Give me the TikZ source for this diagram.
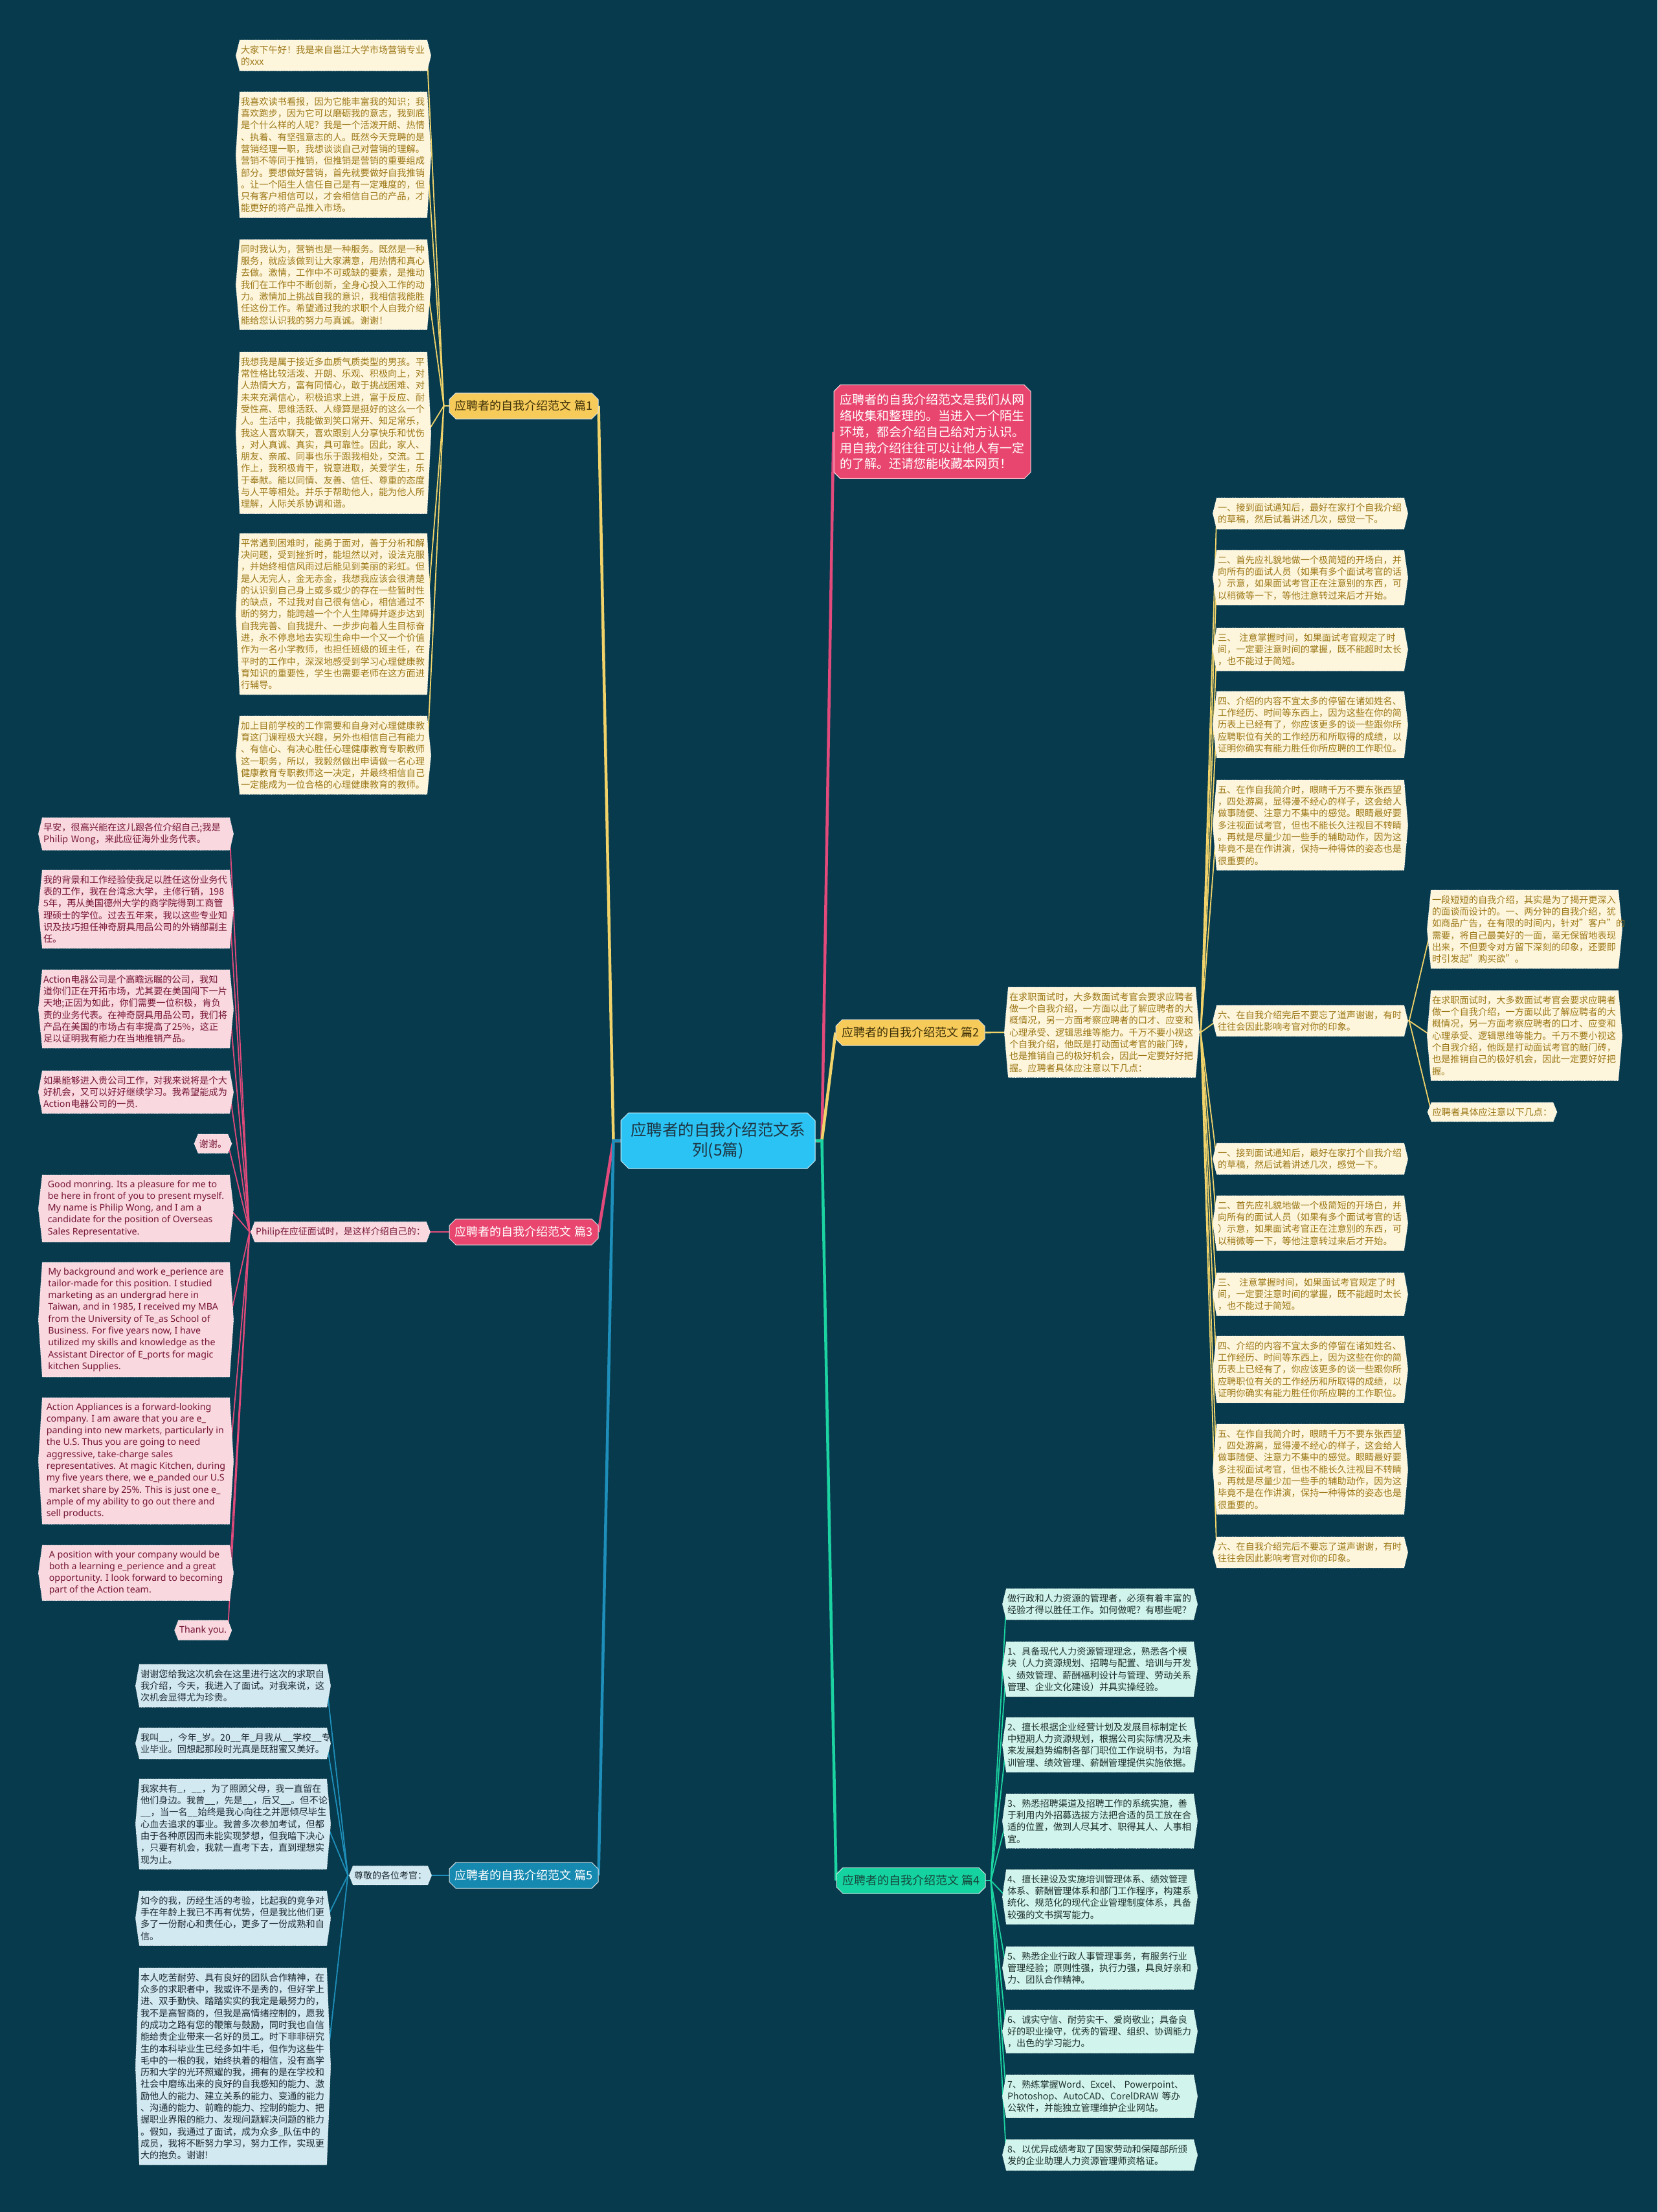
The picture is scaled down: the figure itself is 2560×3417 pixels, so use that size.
\documentclass[tikz,border=0pt]{standalone}
\usepackage{fontspec}
\setmainfont{Noto Sans CJK SC}
\newfontfamily\latinfont{Noto Sans}
\usepackage{tikz}
\usetikzlibrary{positioning,shapes.misc,backgrounds}
\definecolor{deep}{HTML}{073A4D}
\definecolor{rootfill}{HTML}{2BC3F3}
\definecolor{roottext}{HTML}{1E3442}
\definecolor{sun}{HTML}{F7CB5A}
\definecolor{suntext}{HTML}{3F3209}
\definecolor{sunline}{HTML}{F1D36A}
\definecolor{rose}{HTML}{E9466F}
\definecolor{roseline}{HTML}{E24A7B}
\definecolor{sea}{HTML}{1689B1}
\definecolor{sealine}{HTML}{1E8FBA}
\definecolor{mint}{HTML}{14D3A0}
\definecolor{minttext}{HTML}{17453B}
\definecolor{mintline}{HTML}{1CD4A2}
\definecolor{cream}{HTML}{FEF6DC}
\definecolor{creamtext}{HTML}{9B7616}
\definecolor{blush}{HTML}{F9D8DF}
\definecolor{blushtext}{HTML}{761535}
\definecolor{frost}{HTML}{D1F5EC}
\definecolor{frosttext}{HTML}{1F302D}
\definecolor{ice}{HTML}{D3E9F1}
\definecolor{icetext}{HTML}{1C2A33}
\tikzset{
  mbase/.style={font=\fontsize{14.2pt}{18.3pt}\selectfont,inner xsep=1.5pt,inner ysep=8pt,align=left},
  mleaf/.style={mbase,text width=286pt},
  mgold/.style={mleaf,text=creamtext},
  mrose/.style={mleaf,text=blushtext},
  mmint/.style={mleaf,text=frosttext},
  mice/.style={mleaf,text=icetext},
  mword/.style={mbase,font=\latinfont\fontsize{14.2pt}{18.3pt}\selectfont,minimum width=289pt,text=blushtext},
  mtag/.style={mbase},
  mtopic/.style={chamfered rectangle,chamfered rectangle xsep=5pt,chamfered rectangle ysep=5pt,draw=white!85!deep,line width=1pt,minimum width=230pt,minimum height=40pt,inner sep=2pt,font=\fontsize{18pt}{22pt}\selectfont},
  mroot/.style={chamfered rectangle,chamfered rectangle xsep=6pt,chamfered rectangle ysep=6pt,draw=white!80!rootfill,line width=1pt,fill=rootfill,text=roottext,minimum width=300pt,minimum height=86pt,align=center,font=\fontsize{24.5pt}{31pt}\selectfont},
  mintro/.style={chamfered rectangle,chamfered rectangle xsep=5pt,chamfered rectangle ysep=5pt,draw=white!80!rose,line width=1pt,fill=rose,text=white,text width=286pt,align=left,inner xsep=4pt,inner ysep=9pt,font=\fontsize{19pt}{24.8pt}\selectfont},
  mtrunk/.style={line width=4.5pt},
  mlink/.style={line width=2.6pt},
  mline/.style={line width=1.8pt}
}
\newcommand{\mhex}[2]{\path[fill=#2,draw=white,densely dotted,line width=0.7pt] (#1.north west) -- (#1.north east) -- ([xshift=6pt]#1.east) -- (#1.south east) -- (#1.south west) -- ([xshift=-6pt]#1.west) -- cycle;}

\begin{document}
\begin{tikzpicture}[x=1pt,y=-1pt]
  \useasboundingbox (0,0) rectangle (2560,3417);
  \node[mroot] (root) at (1109,1762) {应聘者的自我介绍范文系\\列(5篇)};
  \node[mintro] (intro) at (1440,667) {应聘者的自我介绍范文是我们从网\\络收集和整理的。当进入一个陌生\\环境，都会介绍自己给对方认识。\\用自我介绍往往可以让他人有一定\\的了解。还请您能收藏本网页！};
  \node[mtopic,fill=sun,text=suntext] (p1) at (809,627) {应聘者的自我介绍范文 篇1};
  \node[mtopic,fill=sun,text=suntext] (p2) at (1406,1595) {应聘者的自我介绍范文 篇2};
  \node[mtopic,fill=rose,text=white] (p3) at (809,1903) {应聘者的自我介绍范文 篇3};
  \node[mtopic,fill=mint,text=minttext] (p4) at (1407,2905) {应聘者的自我介绍范文 篇4};
  \node[mtopic,fill=sea,text=white] (p5) at (809,2897) {应聘者的自我介绍范文 篇5};

  \node[mgold,anchor=north] (l1a) at (515,62) {大家下午好！我是来自邕江大学市场营销专业\\的xxx};
  \node[mgold,anchor=north] (l1b) at (515,142) {我喜欢读书看报，因为它能丰富我的知识；我\\喜欢跑步，因为它可以磨砺我的意志，我到底\\是个什么样的人呢？我是一个活泼开朗、热情\\、执着、有坚强意志的人。既然今天竞聘的是\\营销经理一职，我想谈谈自己对营销的理解。\\营销不等同于推销，但推销是营销的重要组成\\部分。要想做好营销，首先就要做好自我推销\\。让一个陌生人信任自己是有一定难度的，但\\只有客户相信可以，才会相信自己的产品，才\\能更好的将产品推入市场。};
  \node[mgold,anchor=north] (l1c) at (515,370) {同时我认为，营销也是一种服务。既然是一种\\服务，就应该做到让大家满意，用热情和真心\\去做。激情，工作中不可或缺的要素，是推动\\我们在工作中不断创新，全身心投入工作的动\\力。激情加上挑战自我的意识，我相信我能胜\\任这份工作。希望通过我的求职个人自我介绍\\能给您认识我的努力与真诚。谢谢！};
  \node[mgold,anchor=north] (l1d) at (515,544) {我想我是属于接近多血质气质类型的男孩。平\\常性格比较活泼、开朗、乐观、积极向上，对\\人热情大方，富有同情心，敢于挑战困难、对\\未来充满信心，积极追求上进，富于反应、耐\\受性高、思维活跃、人缘算是挺好的这么一个\\人。生活中，我能做到笑口常开、知足常乐，\\我这人喜欢聊天，喜欢跟别人分享快乐和忧伤\\，对人真诚、真实，具可靠性。因此，家人、\\朋友、亲戚、同事也乐于跟我相处，交流。工\\作上，我积极肯干，锐意进取，关爱学生，乐\\于奉献。能以同情、友善、信任、尊重的态度\\与人平等相处。并乐于帮助他人，能为他人所\\理解，人际关系协调和谐。};
  \node[mgold,anchor=north] (l1e) at (515,824) {平常遇到困难时，能勇于面对，善于分析和解\\决问题，受到挫折时，能坦然以对，设法克服\\，并始终相信风雨过后能见到美丽的彩虹。但\\是人无完人，金无赤金，我想我应该会很清楚\\的认识到自己身上或多或少的存在一些暂时性\\的缺点，不过我对自己很有信心，相信通过不\\断的努力，能跨越一个个人生障碍并逐步达到\\自我完善、自我提升、一步步向着人生目标奋\\进，永不停息地去实现生命中一个又一个价值\\作为一名小学教师，也担任班级的班主任，在\\平时的工作中，深深地感受到学习心理健康教\\育知识的重要性，学生也需要老师在这方面进\\行辅导。};
  \node[mgold,anchor=north] (l1f) at (515,1106) {加上目前学校的工作需要和自身对心理健康教\\育这门课程极大兴趣，另外也相信自己有能力\\、有信心、有决心胜任心理健康教育专职教师\\这一职务，所以，我毅然做出申请做一名心理\\健康教育专职教师这一决定，并最终相信自己\\一定能成为一位合格的心理健康教育的教师。};

  \node[mtag,text=blushtext,font=\fontsize{14pt}{17pt}\selectfont] (ph) at (526,1903) {Philip在应征面试时，是这样介绍自己的：};
  \node[mrose,anchor=north] (d1) at (210,1263) {早安，很高兴能在这儿跟各位介绍自己;我是\\Philip Wong，来此应征海外业务代表。};
  \node[mrose,anchor=north] (d2) at (210,1344) {我的背景和工作经验使我足以胜任这份业务代\\表的工作，我在台湾念大学，主修行销，198\\5年，再从美国德州大学的商学院得到工商管\\理硕士的学位。过去五年来，我以这些专业知\\识及技巧担任神奇厨具用品公司的外销部副主\\任。};
  \node[mrose,anchor=north] (d3) at (210,1498) {Action电器公司是个高瞻远瞩的公司，我知\\道你们正在开拓市场，尤其要在美国闯下一片\\天地;正因为如此，你们需要一位积极，肯负\\责的业务代表。在神奇厨具用品公司，我们将\\产品在美国的市场占有率提高了25\%，这正\\足以证明我有能力在当地推销产品。};
  \node[mrose,anchor=north] (d4) at (210,1654) {如果能够进入贵公司工作，对我来说将是个大\\好机会，又可以好好继续学习。我希望能成为\\Action电器公司的一员.};
  \node[mtag,text=blushtext,anchor=north east] (d5) at (352,1752) {谢谢。};
  \node[mword,anchor=north] (d6) at (210,1815) {Good monring. Its a pleasure for me to\\be here in front of you to present myself.\\My name is Philip Wong, and I am a\\candidate for the position of Overseas\\Sales Representative.};
  \node[mword,anchor=north] (d7) at (210,1950) {My background and work e\_perience are\\tailor-made for this position. I studied\\marketing as an undergrad here in\\Taiwan, and in 1985, I received my MBA\\from the University of Te\_as School of\\Business. For five years now, I have\\utilized my skills and knowledge as the\\Assistant Director of E\_ports for magic\\kitchen Supplies.};
  \node[mword,anchor=north] (d8) at (210,2159) {Action Appliances is a forward-looking\\company. I am aware that you are e\_\\panding into new markets, particularly in\\the U.S. Thus you are going to need\\aggressive, take-charge sales\\representatives. At magic Kitchen, during\\my five years there, we e\_panded our U.S\\\ market share by 25\%. This is just one e\_\\ample of my ability to go out there and\\sell products.};
  \node[mword,anchor=north] (d9) at (210,2387) {A position with your company would be\\both a learning e\_perience and a great\\opportunity. I look forward to becoming\\part of the Action team.};
  \node[mtag,font=\latinfont\fontsize{14.2pt}{18.3pt}\selectfont,text=blushtext,anchor=north east] (d10) at (352,2503) {Thank you.};

  \node[mtag,text=icetext,font=\fontsize{14pt}{17pt}\selectfont] (hon) at (603,2897) {尊敬的各位考官：};
  \node[mice,anchor=north] (f1) at (360,2571) {谢谢您给我这次机会在这里进行这次的求职自\\我介绍，今天，我进入了面试。对我来说，这\\次机会显得尤为珍贵。};
  \node[mice,anchor=north] (f2) at (360,2669) {我叫\_\_，今年\_岁。20\_\_年\_月我从\_\_学校\_\_专\\业毕业。回想起那段时光真是既甜蜜又美好。};
  \node[mice,anchor=north] (f3) at (360,2748) {我家共有\_，\_\_，为了照顾父母，我一直留在\\他们身边。我曾\_\_，先是\_\_，后又\_\_。但不论\\\_\_，当一名\_\_始终是我心向往之并愿倾尽毕生\\心血去追求的事业。我曾多次参加考试，但都\\由于各种原因而未能实现梦想，但我暗下决心\\，只要有机会，我就一直考下去，直到理想实\\现为止。};
  \node[mice,anchor=north] (f4) at (360,2921) {如今的我，历经生活的考验，比起我的竞争对\\手在年龄上我已不再有优势，但是我比他们更\\多了一份耐心和责任心，更多了一份成熟和自\\信。};
  \node[mice,anchor=north] (f5) at (360,3040) {本人吃苦耐劳、具有良好的团队合作精神，在\\众多的求职者中，我或许不是秀的，但好学上\\进、双手勤快、踏踏实实的我定是最努力的，\\我不是高智商的，但我是高情绪控制的，愿我\\的成功之路有您的鞭策与鼓励，同时我也自信\\能给贵企业带来一名好的员工。时下非非研究\\生的本科毕业生已经多如牛毛，但作为这些牛\\毛中的一根的我，始终执着的相信，没有高学\\历和大学的光环照耀的我，拥有的是在学校和\\社会中磨练出来的良好的自我感知的能力、激\\励他人的能力、建立关系的能力、变通的能力\\、沟通的能力、前瞻的能力、控制的能力、把\\握职业界限的能力、发现问题解决问题的能力\\。假如，我通过了面试，成为众多\_队伍中的\\成员，我将不断努力学习，努力工作，实现更\\大的抱负。谢谢!};

  \node[mgold,anchor=north] (m2) at (1702,1525) {在求职面试时，大多数面试考官会要求应聘者\\做一个自我介绍，一方面以此了解应聘者的大\\概情况，另一方面考察应聘者的口才、应变和\\心理承受、逻辑思维等能力。千万不要小视这\\个自我介绍，他既是打动面试考官的敲门砖，\\也是推销自己的极好机会，因此一定要好好把\\握。应聘者具体应注意以下几点：};
  \node[mgold,anchor=north] (a1) at (2024,769) {一、接到面试通知后，最好在家打个自我介绍\\的草稿，然后试着讲述几次，感觉一下。};
  \node[mgold,anchor=north] (a2) at (2024,850) {二、首先应礼貌地做一个极简短的开场白，并\\向所有的面试人员（如果有多个面试考官的话\\）示意，如果面试考官正在注意别的东西，可\\以稍微等一下，等他注意转过来后才开始。};
  \node[mgold,anchor=north] (a3) at (2024,970) {三、 注意掌握时间，如果面试考官规定了时\\间，一定要注意时间的掌握，既不能超时太长\\，也不能过于简短。};
  \node[mgold,anchor=north] (a4) at (2024,1068) {四、介绍的内容不宜太多的停留在诸如姓名、\\工作经历、时间等东西上，因为这些在你的简\\历表上已经有了，你应该更多的谈一些跟你所\\应聘职位有关的工作经历和所取得的成绩，以\\证明你确实有能力胜任你所应聘的工作职位。};
  \node[mgold,anchor=north] (a5) at (2024,1205) {五、在作自我简介时，眼睛千万不要东张西望\\，四处游离，显得漫不经心的样子，这会给人\\做事随便、注意力不集中的感觉。眼睛最好要\\多注视面试考官，但也不能长久注视目不转睛\\。再就是尽量少加一些手的辅助动作，因为这\\毕竟不是在作讲演，保持一种得体的姿态也是\\很重要的。};
  \node[mgold,anchor=north] (a6) at (2024,1553) {六、在自我介绍完后不要忘了道声谢谢，有时\\往往会因此影响考官对你的印象。};
  \node[mgold,anchor=north] (c1) at (2355,1375) {一段短短的自我介绍，其实是为了揭开更深入\\的面谈而设计的。一、两分钟的自我介绍，犹\\如商品广告，在有限的时间内，针对"客户"的\\需要，将自己最美好的一面，毫无保留地表现\\出来，不但要令对方留下深刻的印象，还要即\\时引发起"购买欲"。};
  \node[mgold,anchor=north] (c2) at (2355,1530) {在求职面试时，大多数面试考官会要求应聘者\\做一个自我介绍，一方面以此了解应聘者的大\\概情况，另一方面考察应聘者的口才、应变和\\心理承受、逻辑思维等能力。千万不要小视这\\个自我介绍，他既是打动面试考官的敲门砖，\\也是推销自己的极好机会，因此一定要好好把\\握。};
  \node[mtag,text=creamtext,anchor=north west] (c3) at (2211,1703) {应聘者具体应注意以下几点：};
  \node[mgold,anchor=north] (b1) at (2024,1766) {一、接到面试通知后，最好在家打个自我介绍\\的草稿，然后试着讲述几次，感觉一下。};
  \node[mgold,anchor=north] (b2) at (2024,1847) {二、首先应礼貌地做一个极简短的开场白，并\\向所有的面试人员（如果有多个面试考官的话\\）示意，如果面试考官正在注意别的东西，可\\以稍微等一下，等他注意转过来后才开始。};
  \node[mgold,anchor=north] (b3) at (2024,1966) {三、 注意掌握时间，如果面试考官规定了时\\间，一定要注意时间的掌握，既不能超时太长\\，也不能过于简短。};
  \node[mgold,anchor=north] (b4) at (2024,2064) {四、介绍的内容不宜太多的停留在诸如姓名、\\工作经历、时间等东西上，因为这些在你的简\\历表上已经有了，你应该更多的谈一些跟你所\\应聘职位有关的工作经历和所取得的成绩，以\\证明你确实有能力胜任你所应聘的工作职位。};
  \node[mgold,anchor=north] (b5) at (2024,2200) {五、在作自我简介时，眼睛千万不要东张西望\\，四处游离，显得漫不经心的样子，这会给人\\做事随便、注意力不集中的感觉。眼睛最好要\\多注视面试考官，但也不能长久注视目不转睛\\。再就是尽量少加一些手的辅助动作，因为这\\毕竟不是在作讲演，保持一种得体的姿态也是\\很重要的。};
  \node[mgold,anchor=north] (b6) at (2024,2374) {六、在自我介绍完后不要忘了道声谢谢，有时\\往往会因此影响考官对你的印象。};

  \node[mmint,anchor=north] (e0) at (1699,2454) {做行政和人力资源的管理者，必须有着丰富的\\经验才得以胜任工作。如何做呢？有哪些呢？};
  \node[mmint,anchor=north] (e1) at (1699,2536) {1、具备现代人力资源管理理念，熟悉各个模\\块（人力资源规划、招聘与配置、培训与开发\\、绩效管理、薪酬福利设计与管理、劳动关系\\管理、企业文化建设）并具实操经验。};
  \node[mmint,anchor=north] (e2) at (1699,2653) {2、擅长根据企业经营计划及发展目标制定长\\中短期人力资源规划，根据公司实际情况及未\\来发展趋势编制各部门职位工作说明书，为培\\训管理、绩效管理、薪酬管理提供实施依据。};
  \node[mmint,anchor=north] (e3) at (1699,2771) {3、熟悉招聘渠道及招聘工作的系统实施，善\\于利用内外招募选拔方法把合适的员工放在合\\适的位置，做到人尽其才、职得其人、人事相\\宜。};
  \node[mmint,anchor=north] (e4) at (1699,2888) {4、擅长建设及实施培训管理体系、绩效管理\\体系、薪酬管理体系和部门工作程序，构建系\\统化、规范化的现代企业管理制度体系，具备\\较强的文书撰写能力。};
  \node[mmint,anchor=north] (e5) at (1699,3007) {5、熟悉企业行政人事管理事务，有服务行业\\管理经验；原则性强，执行力强，具良好亲和\\力、团队合作精神。};
  \node[mmint,anchor=north] (e6) at (1699,3105) {6、诚实守信、耐劳实干、爱岗敬业；具备良\\好的职业操守，优秀的管理、组织、协调能力\\，出色的学习能力。};
  \node[mmint,anchor=north] (e7) at (1699,3205) {7、熟练掌握Word、Excel、 Powerpoint、\\Photoshop、AutoCAD、CorelDRAW 等办\\公软件，并能独立管理维护企业网站。};
  \node[mmint,anchor=north] (e8) at (1699,3305) {8、以优异成绩考取了国家劳动和保障部所颁\\发的企业助理人力资源管理师资格证。};

  \begin{scope}[on background layer]
    \fill[deep] (0,0) rectangle (2560,3417);
    \coordinate (rl) at ([xshift=-11pt]root.west);
    \coordinate (rr) at ([xshift=10pt]root.east);
    \draw[mtrunk,sunline] (root.west) -- (rl) -- (p1.east);
    \draw[mtrunk,roseline] (root.west) -- (rl) -- (p3.east);
    \draw[mtrunk,sealine] (root.west) -- (rl) -- (p5.east);
    \draw[mtrunk,roseline] (root.east) -- (rr) -- (intro.west);
    \draw[mtrunk,sunline] (root.east) -- (rr) -- (p2.west);
    \draw[mtrunk,mintline] (root.east) -- (rr) -- (p4.west);
    \draw[mlink,roseline] (p3.west) -- (ph.east);
    \draw[mlink,sealine] (p5.west) -- (hon.east);
    \draw[mlink,sunline] (p2.east) -- (m2.west);
    \foreach \n in {l1a,l1b,l1c,l1d,l1e,l1f}
      {\draw[mline,sunline] (p1.west) -- ([xshift=-8pt]p1.west) -- (\n.east);}
    \foreach \n in {d1,d2,d3,d4,d5,d6,d7,d8,d9,d10}
      {\draw[mline,roseline] (ph.west) -- ([xshift=-8pt]ph.west) -- (\n.east);}
    \foreach \n in {f1,f2,f3,f4,f5}
      {\draw[mline,sealine] (hon.west) -- ([xshift=-8pt]hon.west) -- (\n.east);}
    \foreach \n in {e0,e1,e2,e3,e4,e5,e6,e7,e8}
      {\draw[mline,mintline] (p4.east) -- ([xshift=8pt]p4.east) -- (\n.west);}
    \foreach \n in {a1,a2,a3,a4,a5,a6,b1,b2,b3,b4,b5,b6}
      {\draw[mline,sunline] (m2.east) -- ([xshift=8pt]m2.east) -- (\n.west);}
    \foreach \n in {c1,c2,c3}
      {\draw[mline,sunline] (a6.east) -- ([xshift=8pt]a6.east) -- (\n.west);}
    \foreach \n/\c in {l1a/cream,l1b/cream,l1c/cream,l1d/cream,l1e/cream,l1f/cream,
        m2/cream,a1/cream,a2/cream,a3/cream,a4/cream,a5/cream,a6/cream,
        b1/cream,b2/cream,b3/cream,b4/cream,b5/cream,b6/cream,c1/cream,c2/cream,c3/cream,
        ph/blush,d1/blush,d2/blush,d3/blush,d4/blush,d5/blush,d6/blush,d7/blush,d8/blush,d9/blush,d10/blush,
        hon/ice,f1/ice,f2/ice,f3/ice,f4/ice,f5/ice,
        e0/frost,e1/frost,e2/frost,e3/frost,e4/frost,e5/frost,e6/frost,e7/frost,e8/frost}
      {\mhex{\n}{\c}}
  \end{scope}
\end{tikzpicture}
\end{document}
